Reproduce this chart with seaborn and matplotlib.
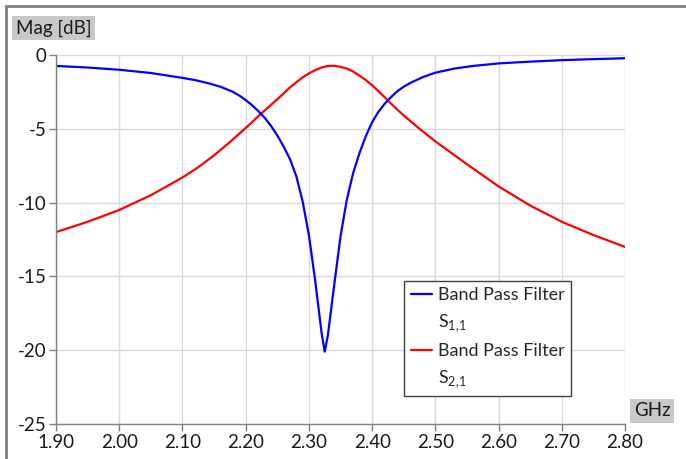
import numpy as np
import pandas as pd
import seaborn as sns
import matplotlib.pyplot as plt
from matplotlib.lines import Line2D
from matplotlib.patches import Rectangle

# S11 (blue)
freq_s11 = [1.90, 1.95, 2.00, 2.05, 2.10, 2.12, 2.14, 2.16, 2.18, 2.19, 2.20, 2.21, 2.22,
            2.23, 2.24, 2.25, 2.26, 2.27, 2.28, 2.29, 2.30, 2.31, 2.32, 2.325, 2.33,
            2.34, 2.35, 2.36, 2.37, 2.38, 2.39, 2.40, 2.41, 2.42, 2.43, 2.44, 2.45,
            2.46, 2.48, 2.50, 2.53, 2.56, 2.60, 2.65, 2.70, 2.75, 2.80]
mag_s11 = [-0.74, -0.85, -1.00, -1.22, -1.55, -1.70, -1.90, -2.15, -2.50, -2.75, -3.05, -3.40, -3.80,
           -4.25, -4.80, -5.45, -6.20, -7.05, -8.20, -9.90, -12.2, -15.3, -18.8, -20.1, -19.0,
           -15.6, -12.3, -9.8, -8.0, -6.65, -5.50, -4.55, -3.85, -3.30, -2.85, -2.45, -2.15,
           -1.90, -1.50, -1.20, -0.92, -0.74, -0.57, -0.45, -0.35, -0.28, -0.22]

# S21 (red)
freq_s21 = [1.90, 1.95, 2.00, 2.05, 2.10, 2.125, 2.15, 2.175, 2.20, 2.225, 2.25, 2.26, 2.27,
            2.28, 2.29, 2.30, 2.31, 2.32, 2.33, 2.34, 2.35, 2.36, 2.37, 2.38, 2.39, 2.40,
            2.41, 2.42, 2.43, 2.44, 2.45, 2.475, 2.50, 2.55, 2.60, 2.65, 2.70, 2.75, 2.80]
mag_s21 = [-12.0, -11.3, -10.5, -9.5, -8.3, -7.6, -6.8, -5.9, -4.95, -3.95, -3.0, -2.6, -2.2,
           -1.85, -1.52, -1.25, -1.02, -0.85, -0.74, -0.73, -0.80, -0.92, -1.12, -1.40, -1.70, -2.05,
           -2.45, -2.87, -3.30, -3.70, -4.10, -5.0, -5.85, -7.4, -8.9, -10.2, -11.3, -12.2, -13.0]

x_ticks = [1.90, 2.00, 2.10, 2.20, 2.30, 2.40, 2.50, 2.60, 2.70, 2.80]
y_ticks = [0, -5, -10, -15, -20, -25]

sns.set_theme(style="white")
plt.rcParams['font.family'] = ['Lato', 'DejaVu Sans']
plt.rcParams['axes.unicode_minus'] = False
plt.rcParams['mathtext.fontset'] = 'custom'
plt.rcParams['mathtext.rm'] = 'Lato'

df11 = pd.DataFrame({"freq": freq_s11, "mag": mag_s11})
df21 = pd.DataFrame({"freq": freq_s21, "mag": mag_s21})

W, H = 686, 459
fig = plt.figure(figsize=(W / 100, H / 100), dpi=100)
fig.patch.set_facecolor("white")
ax = fig.add_axes([56 / W, 1 - 424 / H, 569 / W, 369 / H])

sns.lineplot(data=df21, x="freq", y="mag", color="#ff0000", lw=1.6, ax=ax)
sns.lineplot(data=df11, x="freq", y="mag", color="#0000ff", lw=1.6, ax=ax)

ax.set_xlim(1.90, 2.80)
ax.set_ylim(-25, 0)
ax.set_xticks(x_ticks)
ax.set_xticklabels([f"{t:.2f}" for t in x_ticks])
ax.set_yticks(y_ticks)
ax.set_yticklabels([str(t) for t in y_ticks])
ax.set_xlabel("")
ax.set_ylabel("")
ax.grid(True, color="#d9d9d9", lw=1)
ax.set_axisbelow(True)
for s in ["top", "right"]:
    ax.spines[s].set_visible(False)
for s in ["left", "bottom"]:
    ax.spines[s].set_color("#808080")
    ax.spines[s].set_linewidth(1)
ax.tick_params(axis="both", which="major", length=5, width=1, color="#808080",
               direction="out", labelsize=13.5, labelcolor="#1a1a1a", pad=2,
               left=True, bottom=True)

handles = [Line2D([], [], color="#0000ff", lw=1.6), Line2D([], [], color="none"),
           Line2D([], [], color="#ff0000", lw=1.6), Line2D([], [], color="none")]
labels = ["Band Pass Filter", r"S$_{1{,}1}$", "Band Pass Filter", r"S$_{2{,}1}$"]
leg = ax.legend(handles, labels, loc="lower left", bbox_to_anchor=(0.612, 0.076),
                borderaxespad=0, fontsize=13, frameon=True, fancybox=False,
                edgecolor="#404040", framealpha=1, labelspacing=0.5,
                handlelength=1.2, handletextpad=0.3, borderpad=0.35)
leg.get_frame().set_linewidth(1)

# outer border of the chart area
fig.patches.append(Rectangle((6 / W, -0.1), 1.2, 1.1 - 6 / H, transform=fig.transFigure,
                             fill=False, edgecolor="#7f7f7f", lw=2))

fig.text(16 / W, 1 - 28 / H, "Mag [dB]", fontsize=13.5, va="center", ha="left", color="#1a1a1a",
         bbox=dict(facecolor="#c8c8c8", edgecolor="none", boxstyle="square,pad=0.2"))
fig.text(634 / W, 1 - 411 / H, "GHz", fontsize=13.5, va="center", ha="left", color="#1a1a1a",
         bbox=dict(facecolor="#c8c8c8", edgecolor="none", boxstyle="square,pad=0.2"))

fig.savefig("out.png", dpi=100)
